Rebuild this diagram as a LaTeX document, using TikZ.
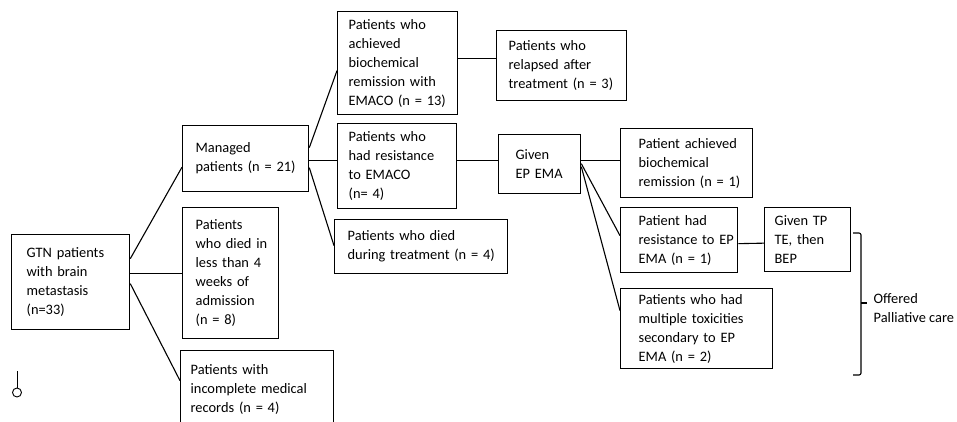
\documentclass[tikz,border=0pt]{standalone}
\usepackage{fontspec}
\setmainfont{Carlito}

\tikzset{
  box/.style={draw, line width=1.3pt, anchor=north west, align=left,
    inner xsep=0pt, inner ysep=0pt, font=\fontsize{14.4}{19}\selectfont},
  lpad/.style={execute at begin node={\leftskip=#1pt}},
  link/.style={line width=1.1pt}
}

\begin{document}
\begin{tikzpicture}[x=1pt, y=-1pt]
    \useasboundingbox (0,0) rectangle (957,421);
    % Boxes
    \node[box, text width=118, minimum height=95, lpad=15] (gtn) at (11,234)
      {GTN patients\\with brain\\metastasis\\(n=33)};
    \node[box, text width=126, minimum height=66, lpad=13] (managed) at (182,125)
      {Managed\\patients (n = 21)};
    \node[box, text width=96, minimum height=131, lpad=13] (died) at (182,207)
      {Patients\\who died in\\less than 4\\weeks of\\admission\\(n = 8)};
    \node[box, text width=153, minimum height=78, lpad=10] (incomplete) at (180,350)
      {Patients with\\incomplete medical\\records (n = 4)};
    \node[box, text width=120, minimum height=103, lpad=11] (remission) at (337,11)
      {Patients who\\achieved\\biochemical\\remission with\\EMACO (n = 13)};
    \node[box, text width=130, minimum height=70, lpad=12] (relapsed) at (496,30)
      {Patients who\\relapsed after\\treatment (n = 3)};
    \node[box, text width=119, minimum height=85, lpad=11] (resistance) at (337,123)
      {Patients who\\had resistance\\to EMACO\\(n= 4)};
    \node[box, text width=173, minimum height=54, lpad=13] (diedtreat) at (334,219)
      {Patients who died\\during treatment (n = 4)};
    \node[box, text width=82, minimum height=59, lpad=17] (epema) at (498,134)
      {Given\\EP EMA};
    \node[box, text width=132, minimum height=69, lpad=18] (achieved) at (620,128)
      {Patient achieved\\biochemical\\remission (n = 1)};
    \node[box, text width=117, minimum height=65, lpad=18] (resepema) at (620,207)
      {Patient had\\resistance to EP\\EMA (n = 1)};
    \node[box, text width=86, minimum height=64, lpad=10] (tpte) at (764,207)
      {Given TP\\TE, then\\BEP};
    \node[box, text width=152, minimum height=80, lpad=18] (toxic) at (620,288)
      {Patients who had\\multiple toxicities\\secondary to EP\\EMA (n = 2)};
    \node[box, draw=none, anchor=west, inner sep=0pt] (palliative) at (873,308)
      {Offered\\Palliative care};
    % Connectors
    \draw[link] ([yshift=23.5pt]gtn.east) -- ([yshift=-8.5pt]managed.west);
    \draw[link] ([yshift=8.5pt]gtn.east) -- ([yshift=-0.5pt]died.west);
    \draw[link] ([yshift=-1.5pt]gtn.east) -- ([yshift=9pt]incomplete.west);
    \draw[link] ([yshift=11pt]managed.east) -- ([yshift=-7.5pt]remission.west);
    \draw[link] ([yshift=-2pt]managed.east) -- ([yshift=5.5pt]resistance.west);
    \draw[link] ([yshift=-9pt]managed.east) -- ([yshift=1pt]diedtreat.west);
    \draw[link] ([yshift=4.5pt]remission.east) -- ([yshift=7pt]relapsed.west);
    \draw[link] ([yshift=5.5pt]resistance.east) -- ([yshift=3.5pt]epema.west);
    \draw[link] ([yshift=3.5pt]epema.east) -- ([yshift=2.5pt]achieved.west);
    \draw[link] ([yshift=0.5pt]epema.east) -- ([yshift=4.5pt]resepema.west);
    \draw[link] ([yshift=-2.5pt]epema.east) -- ([yshift=18pt]toxic.west);
    \draw[link] ([yshift=-3.5pt]resepema.east) -- ([yshift=-3.5pt]tpte.west);
    % Brace
    \draw[link, rounded corners=2pt] (853,233) -- (861,233) -- (861,375) -- (853,375);
    \draw[link] (861,303) -- (867,303);
    % Stray mark
    \draw[line width=0.9pt] (17,371) -- (17,388);
    \draw[line width=0.9pt] (17,392.5) circle (4.5);
\end{tikzpicture}
\end{document}
